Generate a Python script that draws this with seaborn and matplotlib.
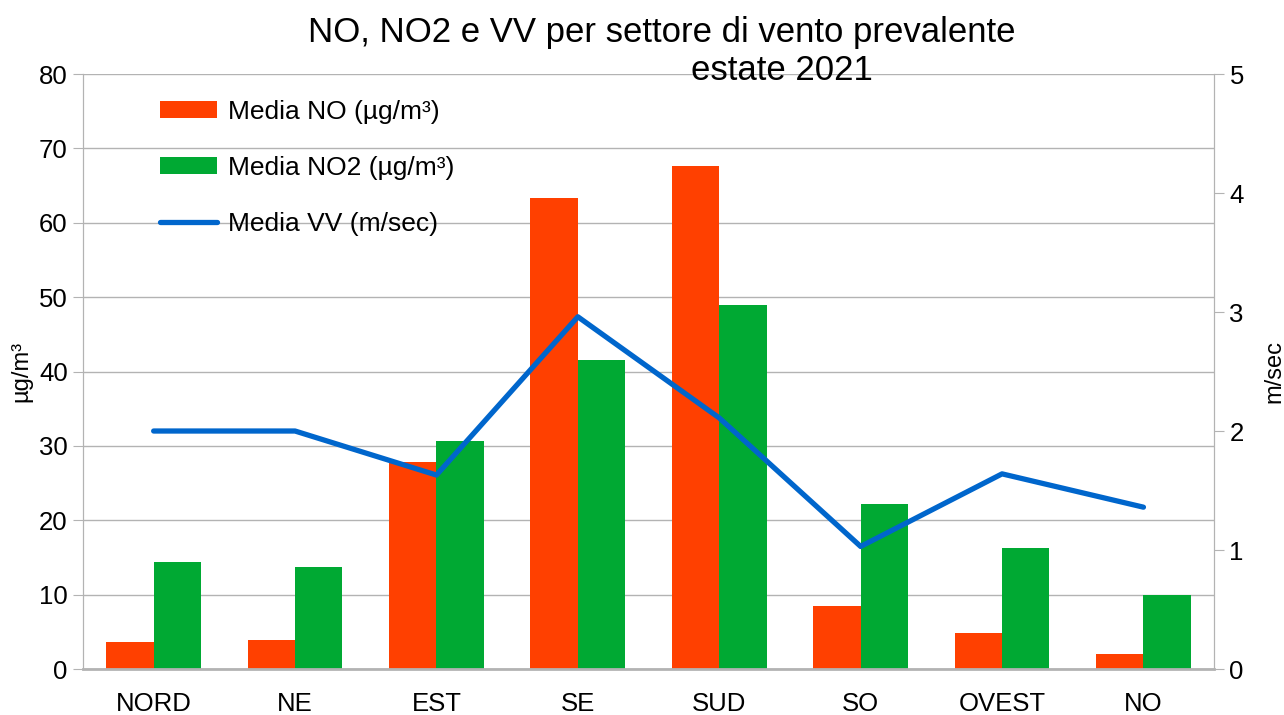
import pandas as pd
import numpy as np
import matplotlib
matplotlib.use("Agg")
import matplotlib.pyplot as plt
import seaborn as sns

# values
sectors = ["NORD", "NE", "EST", "SE", "SUD", "SO", "OVEST", "NO"]
media_no = [3.6, 3.9, 27.8, 63.3, 67.6, 8.5, 4.8, 2.0]
media_no2 = [14.4, 13.7, 30.6, 41.5, 48.9, 22.2, 16.3, 9.9]
media_vv = [2.0, 2.0, 1.63, 2.96, 2.11, 1.03, 1.64, 1.36]

label_no = "Media NO (µg/m³)"
label_no2 = "Media NO2 (µg/m³)"
label_vv = "Media VV (m/sec)"

sns.set_style("white")
plt.rcParams['font.family'] = ['Liberation Sans', 'DejaVu Sans']
plt.rcParams['text.color'] = 'black'
plt.rcParams['xtick.color'] = 'black'
plt.rcParams['ytick.color'] = 'black'
plt.rcParams['axes.labelcolor'] = 'black'

df = pd.DataFrame({
    "Settore": sectors * 2,
    "Valore": media_no + media_no2,
    "Serie": [label_no] * len(sectors) + [label_no2] * len(sectors),
})

grid_col = "#b3b3b3"

fig = plt.figure(figsize=(12.84, 7.15), dpi=100)
ax = fig.add_axes([0.0646, 0.0643, 0.881, 0.8322])

sns.barplot(data=df, x="Settore", y="Valore", hue="Serie", order=sectors,
            palette=["#ff4000", "#00a933"], width=0.67, saturation=1,
            errorbar=None, linewidth=0, ax=ax)
ax.get_legend().remove()

ax.set_ylim(0, 80)
ax.set_yticks(np.arange(0, 81, 10))
ax.set_xlim(-0.5, len(sectors) - 0.5)
ax.set_xticks(np.arange(len(sectors)))
ax.set_xticklabels(sectors)
ax.set_xticks(np.arange(-0.5, len(sectors)), minor=True)
ax.tick_params(axis="x", which="major", length=0, labelsize=18.5, pad=16.5)
ax.tick_params(axis="x", which="minor", length=11, color=grid_col, width=1)
ax.tick_params(axis="y", length=7, color=grid_col, labelsize=18.5, pad=4)
ax.yaxis.grid(True, color=grid_col, lw=1)
ax.set_axisbelow(True)
ax.set_xlabel("")
ax.set_ylabel("µg/m³", fontsize=17, labelpad=5)
for side in ["left", "right", "bottom"]:
    ax.spines[side].set_color(grid_col)
ax.spines["bottom"].set_linewidth(2)
ax.spines["top"].set_visible(False)

ax2 = ax.twinx()
sns.lineplot(x=np.arange(len(sectors)), y=media_vv, color="#0066cc", lw=3.8,
             label=label_vv, ax=ax2)
ax2.get_legend().remove()
ax2.set_ylim(0, 5)
ax2.set_yticks(np.arange(0, 6, 1))
ax2.tick_params(axis="y", length=7, color=grid_col, labelsize=18.5, pad=4)
ax2.set_ylabel("m/sec", fontsize=17, labelpad=14)
for side in ["left", "right", "bottom"]:
    ax2.spines[side].set_color(grid_col)
ax2.spines["top"].set_visible(False)
ax2.spines["bottom"].set_visible(False)

h1, l1 = ax.get_legend_handles_labels()
h2, l2 = ax2.get_legend_handles_labels()
leg = ax2.legend(h1 + h2, l1 + l2, loc="upper left", bbox_to_anchor=(0.047, 0.997),
                 frameon=False, fontsize=19, handlelength=2.15, handleheight=0.6,
                 labelspacing=1.22, handletextpad=0.42)

fig.text(0.5156, 0.955, "NO, NO2 e VV per settore di vento prevalente",
         ha="center", va="center", fontsize=25)
fig.text(0.609, 0.902, "estate 2021", ha="center", va="center", fontsize=25)

fig.savefig("out.png", dpi=100)
